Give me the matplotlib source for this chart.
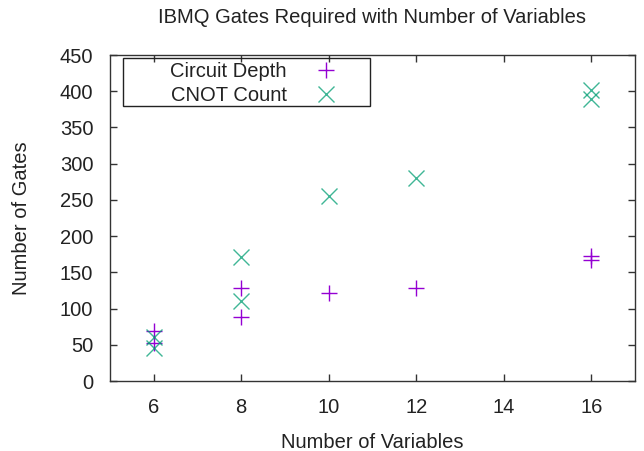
import matplotlib
matplotlib.use("Agg")
import matplotlib.pyplot as plt
from matplotlib.patches import Rectangle

plt.rcParams["font.family"] = ["Liberation Sans", "DejaVu Sans"]

# values
depth_vars = [6, 6, 8, 8, 10, 12, 16, 16]
depth_gates = [69, 53, 128, 89, 122, 129, 172, 167]
cnot_vars = [6, 6, 8, 8, 10, 12, 16, 16]
cnot_gates = [61, 46, 171, 110, 256, 280, 402, 389]

PURPLE = "#9400d3"
GREEN = "#009e73"
FS = 14.5

fig = plt.figure(figsize=(6.44, 4.51), dpi=100)
ax = fig.add_axes([0.1708, 0.1552, 0.8152, 0.7228])

ax.plot(depth_vars, depth_gates, linestyle="none", marker="+", markersize=12,
        markeredgewidth=1.0, color=PURPLE, label="Circuit Depth")
ax.plot(cnot_vars, cnot_gates, linestyle="none", marker="x", markersize=12,
        markeredgewidth=1.0, color=GREEN, alpha=0.75, label="CNOT Count")

ax.set_xlim(5, 17)
ax.set_ylim(0, 450)
ax.set_xticks([6, 8, 10, 12, 14, 16])
ax.set_yticks(range(0, 451, 50))
ax.tick_params(direction="in", top=True, right=True, length=5, width=1,
               labelsize=FS, pad=12, color="#333333", labelcolor="#222222")
for spine in ax.spines.values():
    spine.set_color("#333333")
    spine.set_linewidth(1.0)

ax.set_title("IBMQ Gates Required with Number of Variables", fontsize=FS, pad=23,
             color="#222222")
ax.set_xlabel("Number of Variables", fontsize=FS, labelpad=12, color="#222222")
ax.set_ylabel("Number of Gates", fontsize=FS, labelpad=21, color="#222222")

# gnuplot style key: text right aligned, sample on the right, boxed
ax.add_patch(Rectangle((0.0248, 0.8436), 0.4705, 0.1474, transform=ax.transAxes,
                       fill=False, edgecolor="#222222", linewidth=1.0, zorder=3))
leg = ax.legend(loc="upper right", bbox_to_anchor=(0.4495, 0.979), markerfirst=False,
                frameon=False, fontsize=FS, borderpad=0, handletextpad=0.95,
                handlelength=2.0, labelspacing=0.25, borderaxespad=0)
for t in leg.get_texts():
    t.set_color("#222222")

fig.savefig("out.png", dpi=100)
